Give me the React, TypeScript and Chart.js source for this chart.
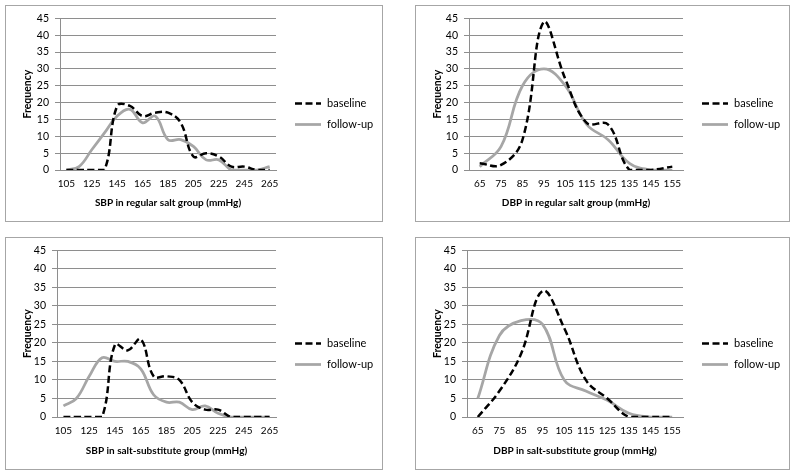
import React, { useEffect, useRef } from 'react';
import { Chart, registerables } from 'chart.js';

Chart.register(...registerables);

// ---- data ----
const sbpCategories = ['105', '115', '125', '135', '145', '155', '165', '175', '185', '195', '205', '215', '225', '235', '245', '255', '265'];
const dbpCategories = ['65', '75', '85', '95', '105', '115', '125', '135', '145', '155'];
const yTickValues = [0, 5, 10, 15, 20, 25, 30, 35, 40, 45];

const sbpRegularBaseline = [0, 0, 0, 0, 19, 19, 16, 17, 17, 14, 4, 5, 4, 1, 1, 0, 0];
const sbpRegularFollowUp = [0, 1, 6, 11, 16, 18, 14, 16, 9, 9, 7, 3, 3, 0, 0, 0, 1];

const dbpRegularBaseline = [2, 1.5, 9, 44, 27, 14, 13.5, 0, 0, 1];
const dbpRegularFollowUp = [1, 7, 25, 30, 25, 13.5, 9, 2, 0, 0];

const sbpSubstituteBaseline = [0, 0, 0, 0, 19.5, 18, 21, 11, 11, 10, 4, 2, 2, 0, 0, 0, 0];
const sbpSubstituteFollowUp = [3, 5, 11, 16, 15, 15, 13, 6, 4, 4, 2, 3, 1, 0, 0, 0, 0];

const dbpSubstituteBaseline = [0, 7, 17, 34, 24, 10, 5, 0, 0, 0];
const dbpSubstituteFollowUp = [5, 22, 26, 25, 10, 7, 4.5, 1, 0, 0];

const seriesLabels = ['baseline', 'follow-up'];

const FONT = 'Lato, "Open Sans", sans-serif';
const TEXT = '#000000';
const GRID = '#8e8e8e';

const sideLegend = {
  id: 'sideLegend',
  afterDraw(chart: any, _args: any, opts: any) {
    const { ctx, chartArea } = chart;
    const x0 = chartArea.right + opts.gap;
    const cy = chart.height / 2;
    const dsets = chart.data.datasets;
    dsets.forEach((ds: any, i: number) => {
      const y = Math.round(cy + (i - (dsets.length - 1) / 2) * opts.spacing) + 0.5;
      ctx.save();
      ctx.strokeStyle = ds.borderColor;
      ctx.lineWidth = ds.borderWidth;
      ctx.setLineDash(ds.borderDash || []);
      ctx.beginPath();
      ctx.moveTo(x0, y);
      ctx.lineTo(x0 + opts.lineLength, y);
      ctx.stroke();
      ctx.setLineDash([]);
      ctx.fillStyle = TEXT;
      ctx.font = `${opts.fontSize}px ${FONT}`;
      ctx.textBaseline = 'middle';
      ctx.textAlign = 'left';
      ctx.fillText(ds.label, x0 + opts.lineLength + opts.textGap, y);
      ctx.restore();
    });
  },
};

type BoxProps = {
  left: number;
  top: number;
  width: number;
  height: number;
  plot: { left: number; right: number; top: number; bottom: number };
  categories: string[];
  labelEvery: number;
  baseline: number[];
  followUp: number[];
  xTitle: string;
};

function ChartBox(p: BoxProps) {
  const ref = useRef<HTMLCanvasElement | null>(null);
  const cw = p.width - 2;
  const ch = p.height - 2;

  useEffect(() => {
    if (!ref.current) return;
    const chart = new Chart(ref.current, {
      type: 'line',
      data: {
        labels: p.categories,
        datasets: [
          {
            label: seriesLabels[0],
            data: p.baseline,
            borderColor: '#000000',
            borderWidth: 2.5,
            borderDash: [7, 3.5],
            pointRadius: 0,
            tension: 0.4,
            fill: false,
          },
          {
            label: seriesLabels[1],
            data: p.followUp,
            borderColor: '#a6a6a6',
            borderWidth: 2.75,
            pointRadius: 0,
            tension: 0.4,
            fill: false,
          },
        ],
      },
      options: {
        responsive: false,
        animation: false,
        devicePixelRatio: 1,
        layout: {
          padding: { left: 0, top: p.plot.top, right: cw - p.plot.right, bottom: 0 },
        },
        plugins: {
          legend: { display: false },
          tooltip: { enabled: false },
          sideLegend: { gap: 19, lineLength: 26, textGap: 6, spacing: 21, fontSize: 11 },
        } as any,
        scales: {
          x: {
            type: 'category',
            offset: true,
            grid: { display: false, drawTicks: false },
            border: { display: true, color: GRID, width: 1 },
            ticks: {
              autoSkip: false,
              maxRotation: 0,
              minRotation: 0,
              padding: 8,
              color: TEXT,
              font: { family: FONT, size: 10 },
              callback: (_v: any, i: number) => (i % p.labelEvery === 0 ? p.categories[i] : ''),
            },
            title: {
              display: true,
              text: p.xTitle,
              color: TEXT,
              font: { family: FONT, size: 10, weight: 'bold' },
              padding: { top: 0, bottom: 12 },
            },
            afterFit: (scale: any) => {
              scale.height = ch - p.plot.bottom;
            },
          },
          y: {
            min: 0,
            max: 45,
            afterBuildTicks: (scale: any) => {
              scale.ticks = yTickValues.map((v) => ({ value: v }));
            },
            grid: { color: GRID, lineWidth: 1, drawTicks: true, tickLength: 5, tickColor: GRID },
            border: { display: true, color: GRID, width: 1 },
            ticks: {
              padding: 6,
              color: TEXT,
              font: { family: FONT, size: 10.5 },
            },
            title: {
              display: true,
              text: 'Frequency',
              color: TEXT,
              font: { family: FONT, size: 10.5, weight: 'bold' },
              padding: { top: 15, bottom: 0 },
            },
            afterFit: (scale: any) => {
              scale.width = p.plot.left;
            },
          },
        },
      } as any,
      plugins: [sideLegend],
    });
    return () => chart.destroy();
  }, []);

  return (
    <div
      style={{
        position: 'absolute',
        left: p.left,
        top: p.top,
        width: p.width,
        height: p.height,
        border: '1px solid #a6a6a6',
        boxSizing: 'border-box',
        background: '#ffffff',
      }}
    >
      <canvas ref={ref} width={cw} height={ch} style={{ display: 'block', width: cw, height: ch }} />
    </div>
  );
}

export default function App() {
  return (
    <div style={{ position: 'absolute', left: 0, top: 0, width: 797, height: 475, background: '#ffffff' }}>
      <ChartBox
        left={5}
        top={5}
        width={378}
        height={217}
        plot={{ left: 54, right: 270, top: 12, bottom: 164 }}
        categories={sbpCategories}
        labelEvery={2}
        baseline={sbpRegularBaseline}
        followUp={sbpRegularFollowUp}
        xTitle="SBP in regular salt group (mmHg)"
      />
      <ChartBox
        left={415}
        top={5}
        width={375}
        height={217}
        plot={{ left: 53, right: 267, top: 12, bottom: 164 }}
        categories={dbpCategories}
        labelEvery={1}
        baseline={dbpRegularBaseline}
        followUp={dbpRegularFollowUp}
        xTitle="DBP in regular salt group (mmHg)"
      />
      <ChartBox
        left={5}
        top={237}
        width={378}
        height={233}
        plot={{ left: 51, right: 270, top: 11, bottom: 179 }}
        categories={sbpCategories}
        labelEvery={2}
        baseline={sbpSubstituteBaseline}
        followUp={sbpSubstituteFollowUp}
        xTitle="SBP in salt-substitute group (mmHg)"
      />
      <ChartBox
        left={415}
        top={237}
        width={375}
        height={233}
        plot={{ left: 51, right: 267, top: 11, bottom: 179 }}
        categories={dbpCategories}
        labelEvery={1}
        baseline={dbpSubstituteBaseline}
        followUp={dbpSubstituteFollowUp}
        xTitle="DBP in salt-substitute group (mmHg)"
      />
    </div>
  );
}
